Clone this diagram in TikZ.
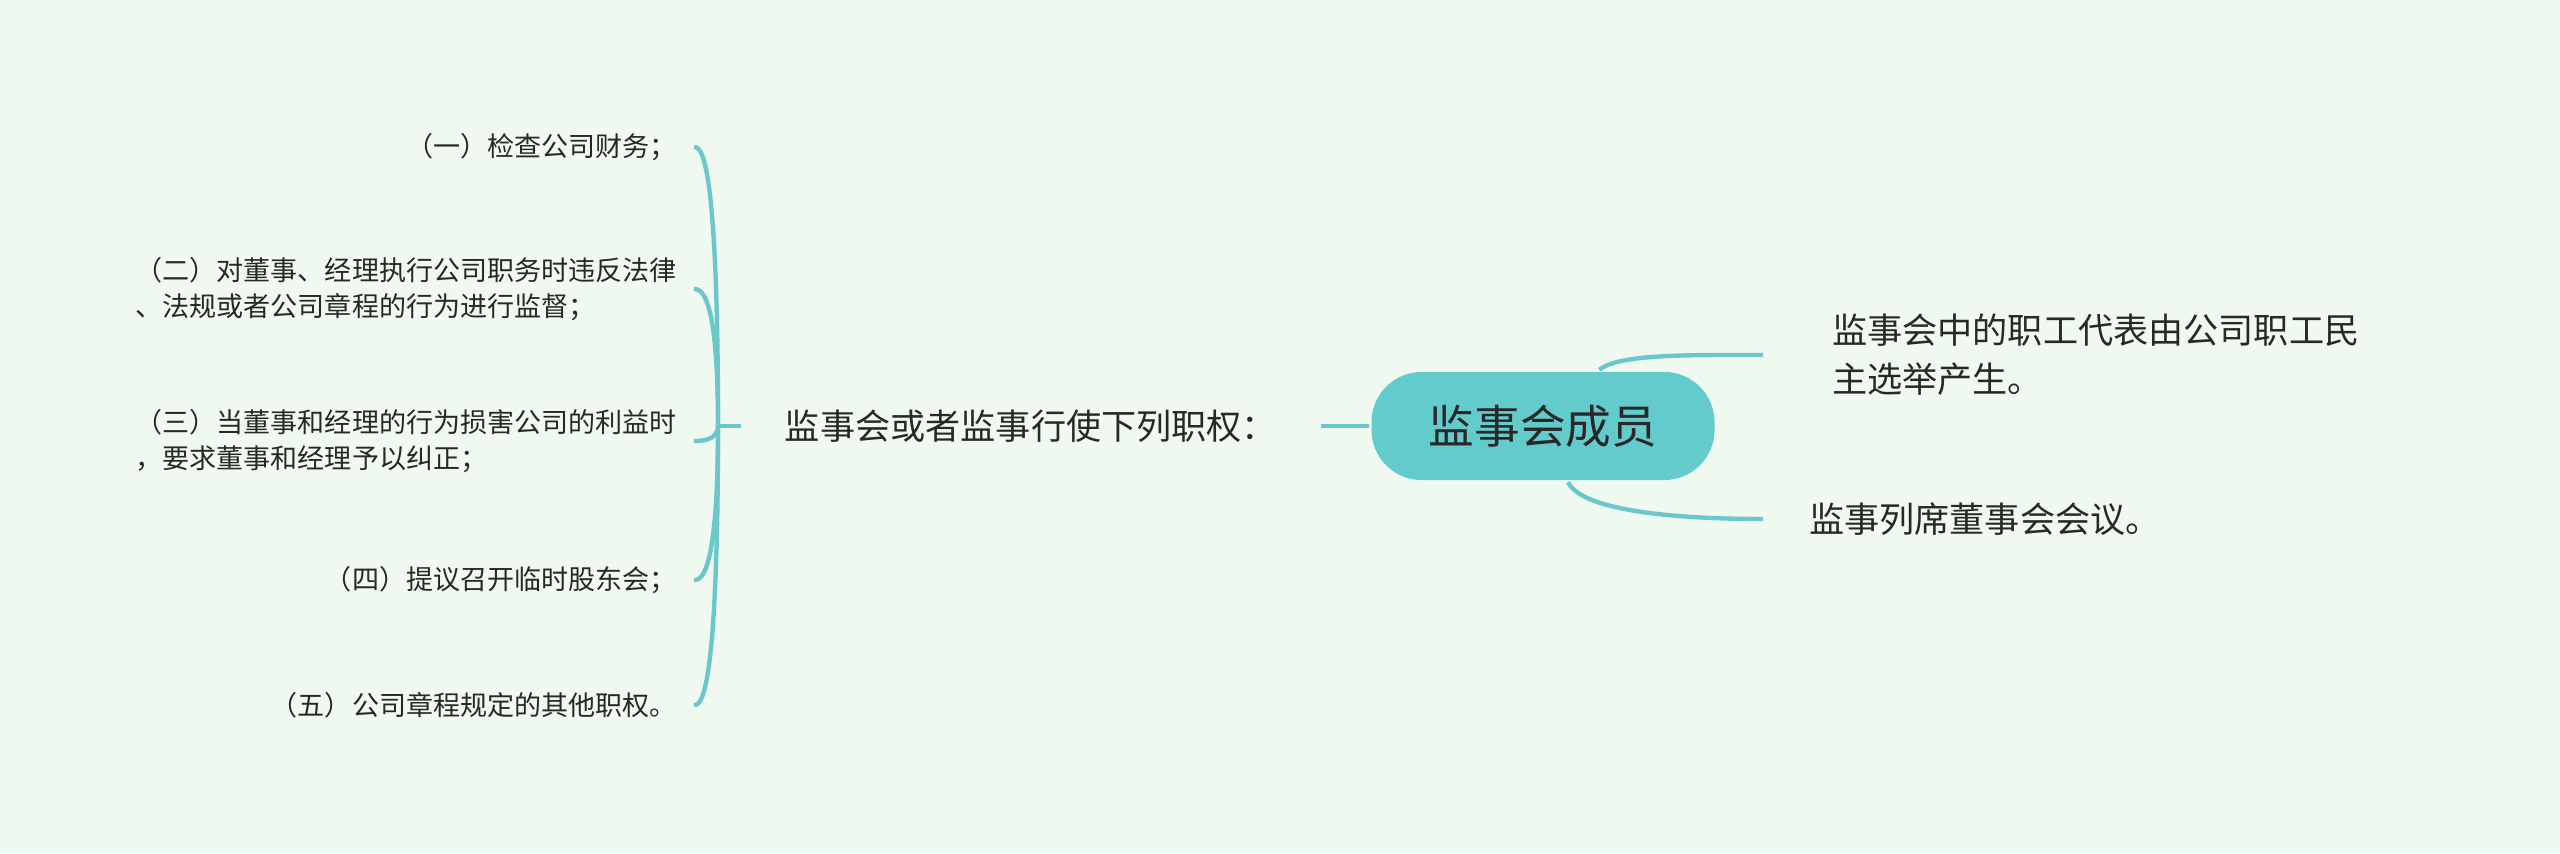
\documentclass[tikz,border=0pt]{standalone}
\usepackage{fontspec}
\setmainfont{Noto Sans CJK SC}
\definecolor{bgmint}{RGB}{240,249,239}
\definecolor{rootteal}{RGB}{100,203,205}
\definecolor{linkteal}{RGB}{108,199,205}
\definecolor{inkgrey}{RGB}{40,40,40}
\begin{document}
\begin{tikzpicture}[draw=linkteal,line width=1.25pt]
	\def \leftcol{6.94cm}
	\def \spine{7.18cm}
	\def \midrow{4.27cm}
	\def \rightcol{17.63cm}
	\tikzstyle{root-node}=[fill=rootteal,rounded corners=0.5cm,minimum width=3.43cm,minimum height=1.08cm,text=inkgrey,font=\fontsize{13}{16}\selectfont]
	\tikzstyle{m-node}=[inner xsep=0.42cm,text=inkgrey,font=\fontsize{10}{14}\selectfont]
	\tikzstyle{c-node}=[anchor=west,align=left,text=inkgrey,font=\fontsize{10}{13.9}\selectfont]
	\tikzstyle{p-node}=[anchor=east,align=left,inner xsep=0.15cm,text=inkgrey,font=\fontsize{7.7}{10.2}\selectfont]
	% background
	\path[use as bounding box,fill=bgmint] (0,0) rectangle (25.6,8.53);
	
	% centre
	\node[root-node] 	(root)	at (15.43cm,\midrow)	{监事会成员};
	\node[m-node] 	(mid)	at (10.31cm,\midrow)	{监事会或者监事行使下列职权：};
	\coordinate 	(jn)	at (\spine,\midrow);
	
	% right side
	\node[c-node,inner xsep=0.67cm] 	(c1)	at (\rightcol,4.98cm)	{监事会中的职工代表由公司职工民\\主选举产生。};
	\node[c-node,inner xsep=0.44cm] 	(c2)	at (\rightcol,3.34cm)	{监事列席董事会会议。};
	
	% left side
	\node[p-node] 	(p1)	at (\leftcol,7.06cm)	{（一）检查公司财务；};
	\node[p-node] 	(p2)	at (\leftcol,5.64cm)	{（二）对董事、经理执行公司职务时违反法律\\、法规或者公司章程的行为进行监督；};
	\node[p-node] 	(p3)	at (\leftcol,4.12cm)	{（三）当董事和经理的行为损害公司的利益时\\，要求董事和经理予以纠正；};
	\node[p-node] 	(p4)	at (\leftcol,2.73cm)	{（四）提议召开临时股东会；};
	\node[p-node] 	(p5)	at (\leftcol,1.48cm)	{（五）公司章程规定的其他职权。};
	
	\path
		(root.west)	edge	(mid.east)
		(mid.west)	edge	(jn);
	
	\draw (root.45) .. controls +(0.2,0.16) and +(-0.75,0) .. (c1.west);
	\draw (root.-66) .. controls +(0.15,-0.3) and +(-0.8,0) .. (c2.west);
	
	\draw (jn) .. controls (jn |- p1.east) and +(0.06,0) .. (p1.east);
	\draw (jn) .. controls (jn |- p2.east) and +(0.06,0) .. (p2.east);
	\draw (jn) .. controls (jn |- p3.east) and +(0.06,0) .. (p3.east);
	\draw (jn) .. controls (jn |- p4.east) and +(0.06,0) .. (p4.east);
	\draw (jn) .. controls (jn |- p5.east) and +(0.06,0) .. (p5.east);
	
\end{tikzpicture}
\end{document}
